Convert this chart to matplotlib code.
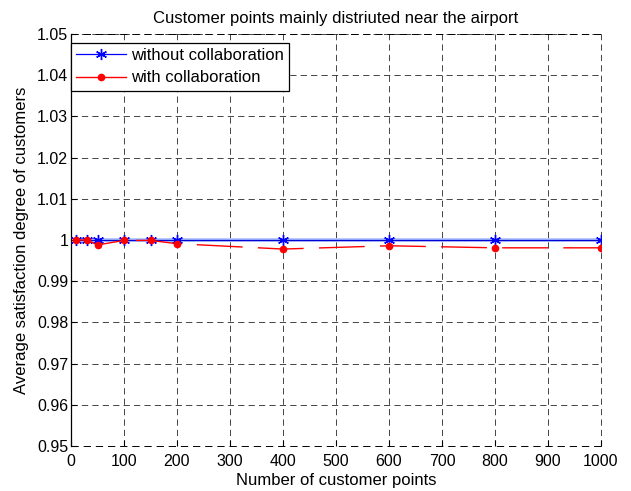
import matplotlib
matplotlib.use("Agg")
import matplotlib.pyplot as plt
from matplotlib.lines import Line2D

plt.rcParams['font.family'] = ['Liberation Sans', 'DejaVu Sans']

# data
n_points = [10, 30, 50, 100, 150, 200, 400, 600, 800, 1000]
without_collab = [1.0, 1.0, 1.0, 1.0, 1.0, 1.0, 1.0, 1.0, 1.0, 1.0]
with_collab = [1.0, 1.0, 0.9988, 0.9999, 0.9999, 0.9991, 0.9978, 0.9986, 0.9981, 0.9981]

x_ticks = [0, 100, 200, 300, 400, 500, 600, 700, 800, 900, 1000]
y_ticks = [0.95, 0.96, 0.97, 0.98, 0.99, 1.0, 1.01, 1.02, 1.03, 1.04, 1.05]
y_labels = ['0.95', '0.96', '0.97', '0.98', '0.99', '1', '1.01', '1.02', '1.03', '1.04', '1.05']

fs = 12
grid_ls = (0, (7.5, 5))
star = (6, 2, 0)  # asterisk like matlab's '*'

fig = plt.figure(figsize=(6.31, 4.91), dpi=100)
ax = fig.add_axes([71 / 631, 1 - 446 / 491, 530 / 631, 412 / 491])

# blue line with a faint halo, like the antialiased original
ax.plot(n_points, without_collab, color='#a8bcff', lw=2.6, zorder=3)
ax.plot(n_points, without_collab, color='#0000d0', lw=0.9, marker=star,
        markersize=8, markeredgewidth=1.0, markeredgecolor='blue', zorder=4)

# red line comes out broken into long dashes in the original
red_line, = ax.plot(n_points, with_collab, color='red', lw=1.0, zorder=5)
red_line.set_dashes([33, 11])
red_line.set_dash_capstyle('butt')
ax.plot(n_points, with_collab, linestyle='none', marker='o', color='red',
        markersize=4.5, zorder=6)

ax.set_xlim(0, 1000)
ax.set_ylim(0.95, 1.05)
ax.set_xticks(x_ticks)
ax.set_yticks(y_ticks)
ax.set_yticklabels(y_labels)
ax.tick_params(direction='in', length=4, width=0.8, labelsize=11.5, colors='black')
ax.tick_params(axis='x', pad=6)
ax.tick_params(axis='y', pad=2)

ax.grid(True, color='black', linestyle=grid_ls, linewidth=0.6, alpha=0.85)
for side in ['top', 'right', 'bottom']:
    ax.spines[side].set_visible(False)
ax.spines['left'].set_linewidth(0.9)
# dashed lines along the top, right and bottom edges
for yv in [0.95, 1.05]:
    ax.axhline(yv, color='black', linestyle=grid_ls, linewidth=0.7, clip_on=False)
ax.axvline(1000, color='black', linestyle=grid_ls, linewidth=0.6, alpha=0.85, clip_on=False)

ax.set_title('Customer points mainly distriuted near the airport', fontsize=fs, pad=8)
ax.set_xlabel('Number of customer points', fontsize=fs, labelpad=3)
ax.set_ylabel('Average satisfaction degree of customers', fontsize=fs, labelpad=6)

handles = [
    Line2D([], [], color='blue', lw=0.9, marker=star, markersize=8),
    Line2D([], [], color='red', lw=1.0, marker='o', markersize=4.5),
]
leg = ax.legend(handles, ['without collaboration', 'with collaboration'],
                loc='upper left', bbox_to_anchor=(0, 1 - 9 / 412), borderaxespad=0,
                fontsize=fs, handlelength=3.0, handletextpad=0.3, labelspacing=0.45,
                borderpad=0.3, fancybox=False, framealpha=1, edgecolor='black')
leg.get_frame().set_linewidth(0.9)

fig.savefig('out.png', dpi=100)
